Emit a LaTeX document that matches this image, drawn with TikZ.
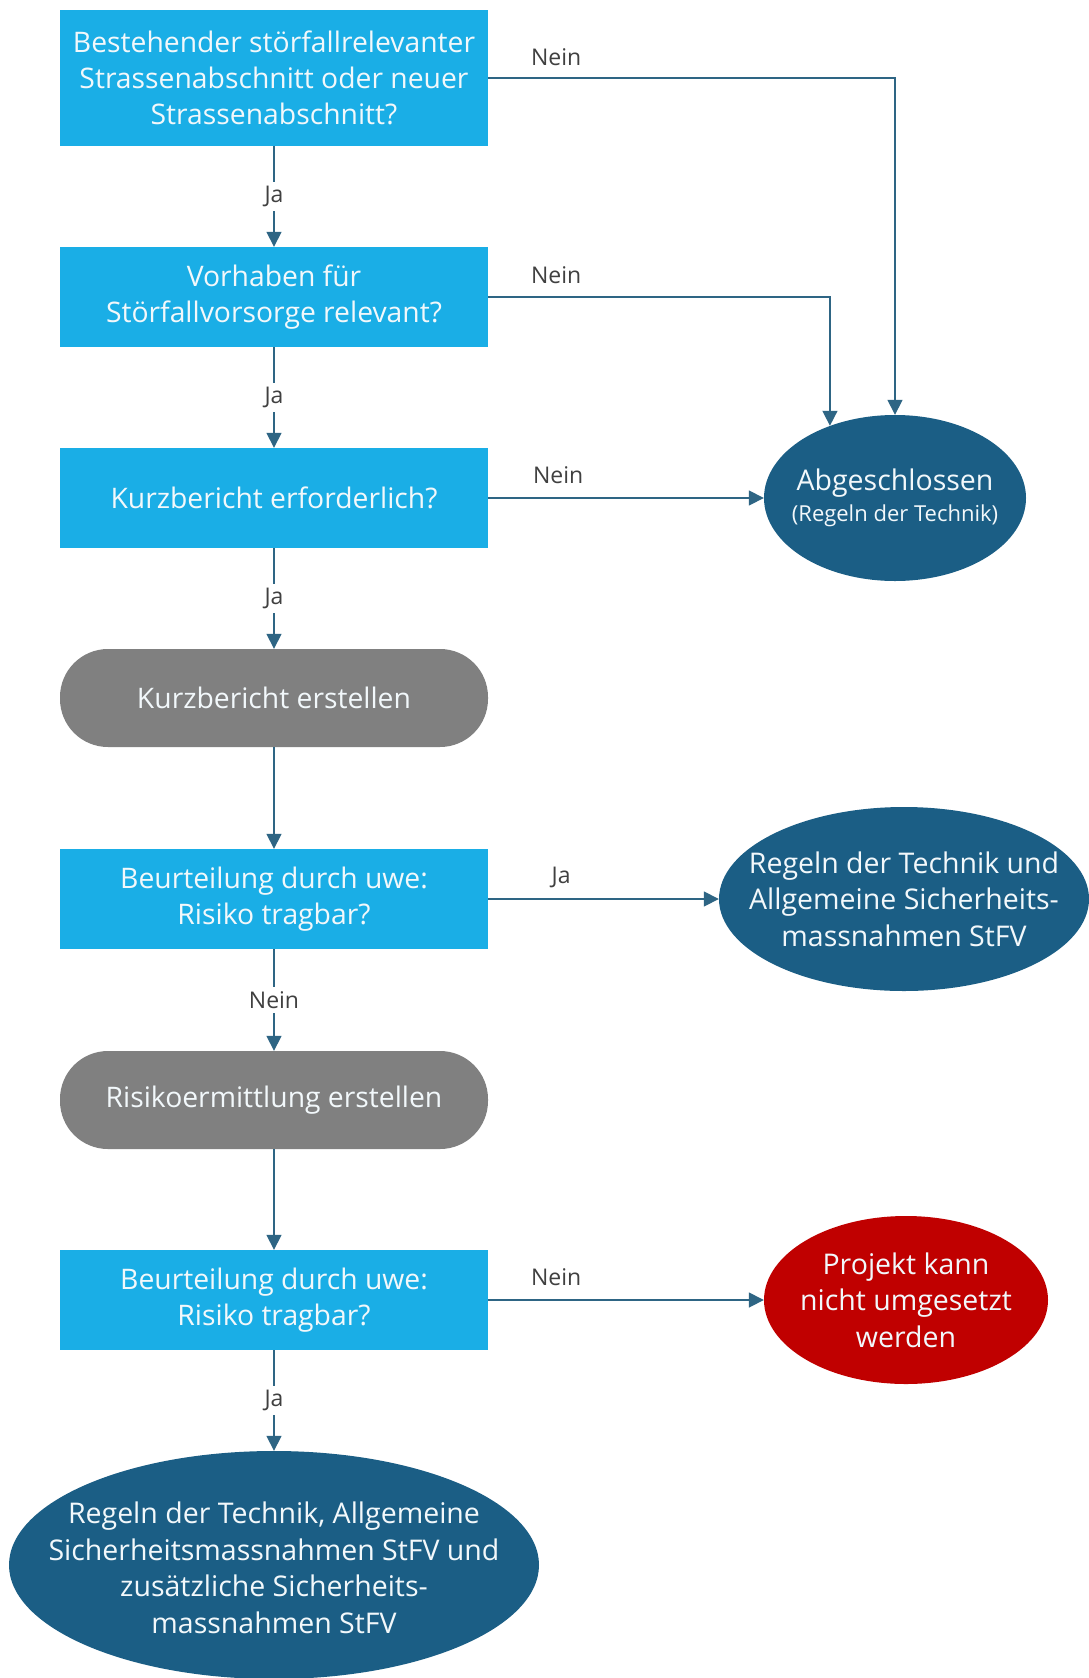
\documentclass[tikz,border=0pt]{standalone}
\usepackage{fontspec}
\setmainfont{Open Sans}
\usetikzlibrary{arrows.meta,shapes.geometric}
\definecolor{boxblue}{HTML}{1AAEE6}
\definecolor{darkteal}{HTML}{1B5E85}
\definecolor{pillgray}{HTML}{808080}
\definecolor{stopred}{HTML}{C00000}
\definecolor{linecol}{HTML}{2E6584}
\definecolor{labcol}{HTML}{404040}
\definecolor{txtwhite}{HTML}{F2F8FB}
\tikzset{
  qbox/.style={rectangle, fill=boxblue, minimum width=428pt, minimum height=100pt, inner sep=0pt, align=center, text=txtwhite, font=\fontsize{28.3}{36}\selectfont},
  pill/.style={rectangle, rounded corners=48pt, fill=pillgray, minimum width=428pt, minimum height=98pt, inner sep=0pt, align=center, text=txtwhite, font=\fontsize{28.3}{36}\selectfont},
  endell/.style={ellipse, fill=darkteal, inner sep=0pt},
  etext/.style={align=center, text=txtwhite, inner sep=0pt, font=\fontsize{28.5}{36.5}\selectfont},
  conn/.style={draw=linecol, line width=1.6pt, -{Triangle[length=15pt,width=15pt]}},
  lab/.style={text=labcol, font=\fontsize{23}{27}\selectfont, inner sep=2pt},
  vlab/.style={lab, fill=white, inner sep=4pt}
}
\begin{document}
\begin{tikzpicture}[x=1pt,y=-1pt]
\useasboundingbox (0,0) rectangle (1089,1678);
\fill[white] (0,0) rectangle (1089,1678);
% nodes
\node[qbox, minimum height=136pt] (b1) at (274,78) {Bestehender störfallrelevanter\\Strassenabschnitt oder neuer\\Strassenabschnitt?};
\node[qbox] (b2) at (274,297) {Vorhaben für\\Störfallvorsorge relevant?};
\node[qbox] (b3) at (274,498) {Kurzbericht erforderlich?};
\node[pill] (p1) at (274,698) {Kurzbericht erstellen};
\node[qbox] (b4) at (274,899) {Beurteilung durch uwe:\\Risiko tragbar?};
\node[pill] (p2) at (274,1100) {Risikoermittlung erstellen};
\node[qbox] (b5) at (274,1300) {Beurteilung durch uwe:\\Risiko tragbar?};
\node[endell, minimum width=262pt, minimum height=166pt] (e1) at (895,498) {};
\node[etext] (t1) at (e1.center) {Abgeschlossen\\[-5pt]{\fontsize{22}{26}\selectfont(Regeln der Technik)}};
\node[endell, minimum width=370pt, minimum height=184pt] (e2) at (904,899) {};
\node[etext] (t2) at (e2.center) {Regeln der Technik und\\Allgemeine Sicherheits-\\massnahmen StFV};
\node[endell, fill=stopred, minimum width=284pt, minimum height=168pt] (e3) at (906,1300) {};
\node[etext] (t3) at (e3.center) {Projekt kann\\nicht umgesetzt\\werden};
\node[endell, minimum width=530pt, minimum height=228pt] (e4) at (274,1565) {};
\node[etext] (t4) at ([yshift=-3pt]e4.center) {Regeln der Technik, Allgemeine\\Sicherheitsmassnahmen StFV und\\zusätzliche Sicherheits-\\massnahmen StFV};
% vertical connectors
\draw[conn] (b1) -- node[vlab, midway] (l1) {Ja} (b2);
\draw[conn] (b2) -- node[vlab, midway] (l2) {Ja} (b3);
\draw[conn] (b3) -- node[vlab, midway] (l3) {Ja} (p1);
\draw[conn] (p1) -- (b4);
\draw[conn] (b4) -- node[vlab, midway] (l4) {Nein} (p2);
\draw[conn] (p2) -- (b5);
\draw[conn] (b5) -- node[vlab, midway] (l5) {Ja} (e4);
% horizontal connectors
\draw[conn] (b1.east) -| (e1.north);
\draw[conn] (b2.east) -| (e1.132);
\draw[conn] (b3.east) -- (e1.west);
\draw[conn] (b4.east) -- (e2.west);
\draw[conn] (b5.east) -- (e3.west);
% labels
\path (b1.east) ++(68,-21) node[lab] (n1) {Nein};
\path (b2.east) ++(68,-22) node[lab] (n2) {Nein};
\path (b3.east) ++(70,-23) node[lab] (n3) {Nein};
\path (b4.east) ++(73,-22) node[lab] (n4) {Ja};
\path (b5.east) ++(68,-23) node[lab] (n5) {Nein};
\end{tikzpicture}
\end{document}
